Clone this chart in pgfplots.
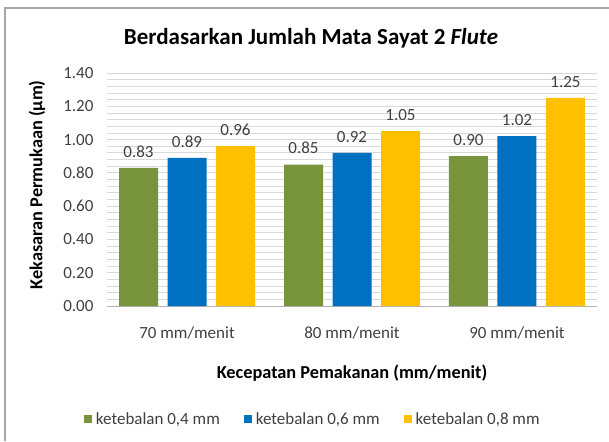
\documentclass[border=0pt]{standalone}
\usepackage{pgfplots}
\pgfplotsset{compat=1.18}
\usepackage{fontspec}
\setmainfont{Carlito}
\definecolor{cgreen}{HTML}{77933C}
\definecolor{cblue}{HTML}{0070C0}
\definecolor{cyellow}{HTML}{FFC000}
\definecolor{cgrid}{HTML}{D9D9D9}
\definecolor{ctext}{HTML}{404040}
\begin{document}
\begin{tikzpicture}[x=1pt,y=1pt]
\path[use as bounding box] (0,0) rectangle (609,441);
\draw[gray!70, line width=1.5pt] (5,0) -- (5,433) -- (609,433);
\node[font=\fontsize{23}{27}\selectfont\bfseries] at (311,403) {Berdasarkan Jumlah Mata Sayat 2 \textit{Flute}};
\begin{axis}[at={(107pt,135pt)}, anchor=south west, scale only axis,
  width=490pt, height=233pt,
  ymin=0, ymax=1.4, xmin=0.515, xmax=3.485,
  ytick={0,0.2,0.4,0.6,0.8,1.0,1.2,1.4},
  minor y tick num=4,
  ymajorgrids, yminorgrids,
  major grid style={cgrid, line width=0.8pt},
  minor grid style={cgrid, line width=0.8pt},
  xtick={1,2,3}, xticklabels={70 mm/menit, 80 mm/menit, 90 mm/menit},
  major tick length=0pt, minor tick length=0pt,
  axis x line*=bottom, axis y line*=left,
  y axis line style={draw=none},
  x axis line style={draw=gray!60, line width=1pt, -},
  ybar=9.5pt, bar width=39pt,
  tick label style={font=\fontsize{17}{20}\selectfont, text=ctext},
  yticklabel style={xshift=-10pt, /pgf/number format/.cd, fixed, fixed zerofill, precision=2, assume math mode=true},
  xticklabel style={yshift=-17pt},
  xlabel={Kecepatan Pemakanan (mm/menit)},
  ylabel={Kekasaran Permukaan (µm)},
  label style={font=\fontsize{18.3}{22}\selectfont\bfseries},
  xlabel style={at={(axis description cs:0.5,-0.2876)}, anchor=center},
  ylabel style={at={(axis description cs:-0.143,0.52)}, anchor=center, rotate=0},
  nodes near coords={\pgfmathprintnumber[fixed,fixed zerofill,precision=2,assume math mode=true]{\pgfplotspointmeta}},
  nodes near coords style={font=\fontsize{17}{20}\selectfont, text=ctext, anchor=south, yshift=7pt},
  legend columns=3,
  legend style={at={(axis description cs:0.42,-0.485)}, anchor=center, draw=none,
    font=\fontsize{17}{20}\selectfont, text=ctext,
    /tikz/every odd column/.append style={column sep=2pt},
    /tikz/every even column/.append style={column sep=22pt}},
  legend image code/.code={\fill[#1] (0pt,-4pt) rectangle (8pt,4pt);},
]
\addplot[fill=cgreen, draw=none] coordinates {(1,0.83) (2,0.85) (3,0.90)};
\addlegendentry{ketebalan 0,4 mm}
\addplot[fill=cblue, draw=none] coordinates {(1,0.89) (2,0.92) (3,1.02)};
\addlegendentry{ketebalan 0,6 mm}
\addplot[fill=cyellow, draw=none] coordinates {(1,0.96) (2,1.05) (3,1.25)};
\addlegendentry{ketebalan 0,8 mm}
\end{axis}
\end{tikzpicture}
\end{document}
